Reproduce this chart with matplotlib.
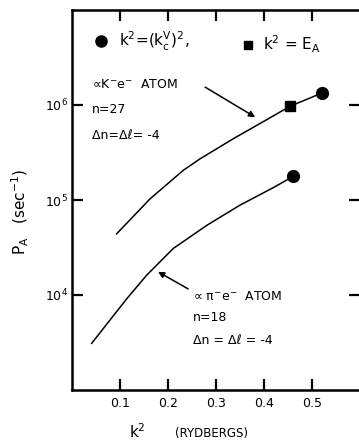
import numpy as np
import matplotlib.pyplot as plt

plt.rcParams['font.family'] = ['DejaVu Sans']
plt.rcParams['mathtext.default'] = 'regular'

# K- e- atom, n=27 (upper curve)
k2_kaon = [0.093, 0.163, 0.232, 0.267, 0.336, 0.406, 0.455, 0.522]
rate_kaon = [4.4e4, 1.03e5, 2.05e5, 2.71e5, 4.4e5, 7.0e5, 9.7e5, 1.34e6]

# pi- e- atom, n=18 (lower curve)
k2_pion = [0.041, 0.114, 0.156, 0.211, 0.281, 0.350, 0.420, 0.462]
rate_pion = [3.1e3, 9.1e3, 1.62e4, 3.08e4, 5.4e4, 8.8e4, 1.35e5, 1.78e5]

# marked points: circles k^2=(k_c^V)^2, square k^2=E_A
circle_k2 = [0.522, 0.462]
circle_rate = [1.34e6, 1.78e5]
square_k2 = [0.455]
square_rate = [9.7e5]

xticks = [0.1, 0.2, 0.3, 0.4, 0.5]
yticks = [1e4, 1e5, 1e6]

fig = plt.figure(figsize=(3.59, 4.42), dpi=100)
ax = fig.add_axes([72 / 359, 1 - 390 / 442, 287.6 / 359, 380 / 442])

ax.plot(k2_kaon, rate_kaon, color='black', lw=1.1)
ax.plot(k2_pion, rate_pion, color='black', lw=1.1)
ax.plot(circle_k2, circle_rate, 'o', color='black', ms=8.5)
ax.plot(square_k2, square_rate, 's', color='black', ms=6.5)

ax.set_yscale('log')
ax.set_xlim(0, 0.6)
ax.set_ylim(1e3, 1e7)
ax.set_xticks(xticks)
ax.set_xticklabels(['0.1', '0.2', '0.3', '0.4', '0.5'])
ax.set_yticks(yticks)
ax.set_yticklabels([r'$10^{4}$', r'$10^{5}$', r'$10^{6}$'])
ax.minorticks_off()
ax.tick_params(direction='in', length=8, width=1.6, labelsize=9,
               top=True, right=True, pad=5)
ax.tick_params(axis='y', pad=3, labelsize=9)
for s in ax.spines.values():
    s.set_linewidth(1.8)
ax.spines['right'].set_visible(False)

# legend-like keys at the top
ax.plot([0.101], [0.918], 'o', color='black', ms=8, transform=ax.transAxes, clip_on=False)
ax.text(0.165, 0.918, r'$k^{2}$=$(k_{c}^{V})^{2}$,', transform=ax.transAxes,
        fontsize=11, va='center', ha='left')
ax.plot([0.612], [0.909], 's', color='black', ms=6, transform=ax.transAxes, clip_on=False)
ax.text(0.665, 0.909, r'$k^{2}$ = $E_{A}$', transform=ax.transAxes,
        fontsize=11, va='center', ha='left')

# upper curve annotation
ax.text(0.07, 0.803, '∝K$^{-}$e$^{-}$  ATOM', transform=ax.transAxes,
        fontsize=9, va='center', ha='left')
ax.text(0.07, 0.737, 'n=27', transform=ax.transAxes, fontsize=9, va='center')
ax.text(0.07, 0.671, 'Δn=Δℓ= -4', transform=ax.transAxes,
        fontsize=9, va='center')
ax.annotate('', xy=(0.637, 0.718), xytext=(0.463, 0.797),
            xycoords='axes fraction', textcoords='axes fraction',
            arrowprops=dict(arrowstyle='-|>', color='black', lw=1.1,
                            mutation_scale=9, shrinkA=0, shrinkB=0))

# lower curve annotation
ax.text(0.42, 0.247, '∝ π$^{-}$e$^{-}$  ATOM', transform=ax.transAxes,
        fontsize=9, va='center', ha='left')
ax.text(0.42, 0.192, 'n=18', transform=ax.transAxes, fontsize=9, va='center')
ax.text(0.42, 0.129, 'Δn = Δℓ = -4', transform=ax.transAxes,
        fontsize=9, va='center')
ax.annotate('', xy=(0.299, 0.311), xytext=(0.404, 0.266),
            xycoords='axes fraction', textcoords='axes fraction',
            arrowprops=dict(arrowstyle='-|>', color='black', lw=1.1,
                            mutation_scale=9, shrinkA=0, shrinkB=0))

# axis labels
fig.text(20 / 359, 1 - 212 / 442, r'$P_{A}$   (sec$^{-1}$)', rotation=90,
         fontsize=11, ha='center', va='center')
fig.text(137 / 359, 1 - 432 / 442, r'$k^{2}$', fontsize=11, ha='center', va='center')
fig.text(212 / 359, 1 - 433 / 442, '(RYDBERGS)', fontsize=8.5, ha='center', va='center')

fig.savefig('out.png', dpi=100)
